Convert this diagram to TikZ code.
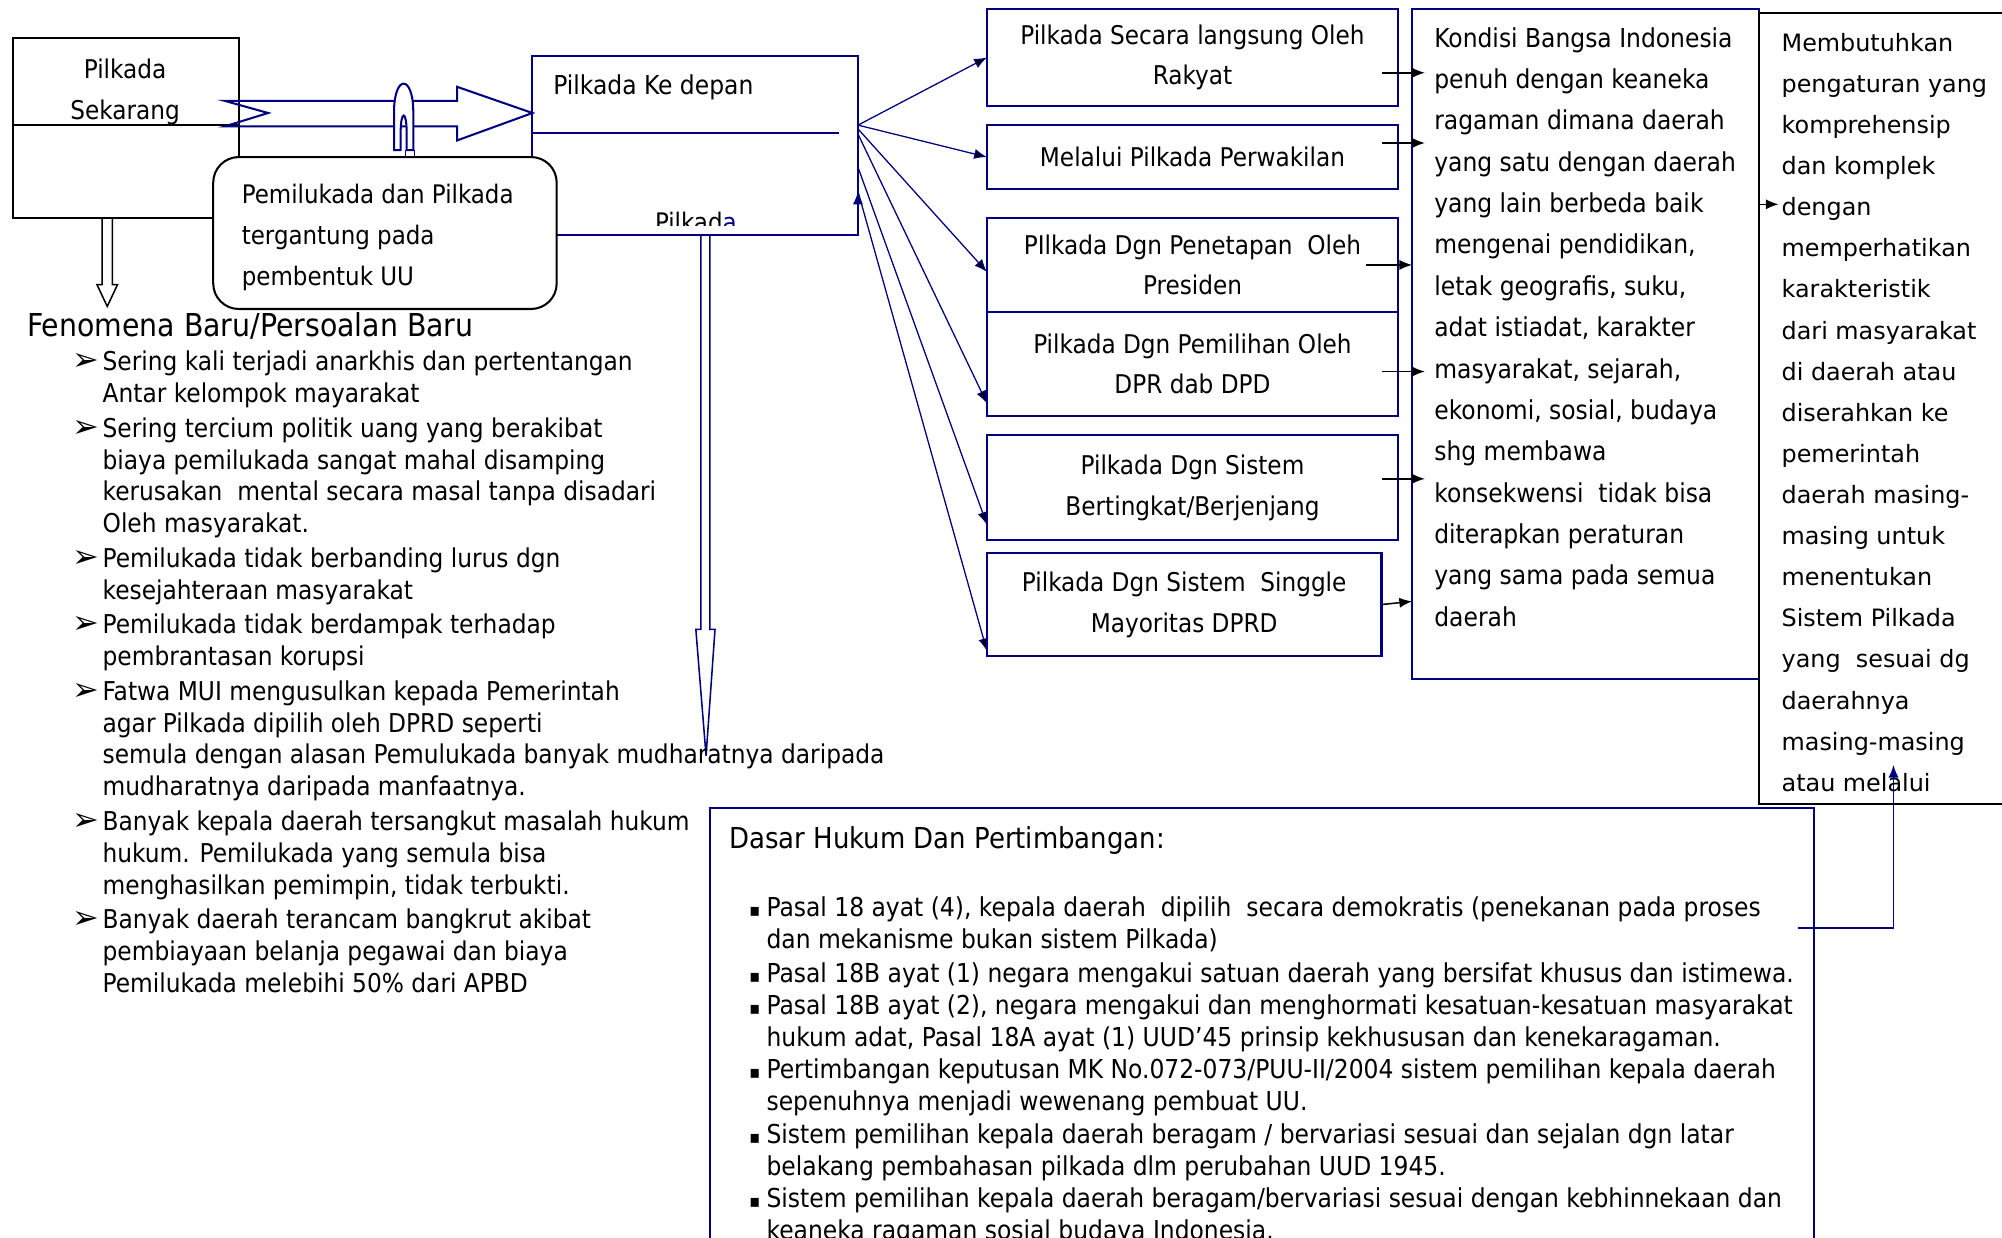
\documentclass[tikz,border=0pt]{standalone}
\usepackage{fontspec}
\setmainfont{DejaVu Sans Condensed}
\newfontfamily\verdana{DejaVu Sans}
\usetikzlibrary{positioning,calc,arrows.meta}
\definecolor{biru}{RGB}{0,0,128}
\newcommand{\panahpoin}{\llap{{\verdana\fontsize{12.5}{12}\selectfont ➢}\hspace{1.5pt}}}
\newcommand{\kotakpoin}{\llap{{\fontsize{7}{7}\selectfont ▪}\hspace{2.5pt}}}

\begin{document}
\begin{tikzpicture}[x=0.5pt,y=-0.5pt,>={Latex[length=5pt,width=4pt]},
    kotak/.style = {draw=biru,line width=0.8pt,anchor=north west,inner sep=0pt,outer sep=0pt},
    kotakhitam/.style = {draw,line width=0.8pt,anchor=north west,inner sep=0pt,outer sep=0pt},
    isi/.style = {font=\fontsize{10.1}{16}\selectfont,align=center},
    teks/.style = {inner sep=0pt,anchor=north west,align=left},
    panahbiru/.style = {->,draw=biru,line width=0.5pt},
    panahhitam/.style = {->,line width=0.6pt},
    blok/.style = {draw=biru,line width=0.8pt}]
        \useasboundingbox (0,0) rectangle (1568,969);

        % kiri atas
        \node[kotakhitam,minimum width=88.5pt,minimum height=70.5pt] (sekarang) at (10,30) {};
        \node[isi] (tsekarang) at (98,72) {Pilkada\\Sekarang};
        \draw[line width=0.8pt] ($(sekarang.north west)+(0,68)$) -- ($(sekarang.north east)+(0,68)$);

        \node[kotak,minimum width=127.5pt,minimum height=70pt] (depan) at (417,44) {};
        \node[inner sep=0pt,anchor=west,font=\fontsize{10.2}{12}\selectfont] (tdepan) at (433,68) {Pilkada Ke depan};
        \draw[biru,line width=0.8pt] ($(depan.north west)+(0,60)$) -- ++(240,0);
        \begin{scope}
            \clip (430,150) rectangle (660,177);
            \node[anchor=base,font=\fontsize{10}{12}\selectfont] (tpilkada) at (545,181) {Pilkad\textcolor{biru}{a}};
        \end{scope}

        \node[kotakhitam,rounded corners=10pt,fill=white,minimum width=134.5pt,minimum height=59.5pt] (uu) at (167,123) {};
        \node[teks,font=\fontsize{10}{16}\selectfont] (tuu) at (189,144) {Pemilukada dan Pilkada\\tergantung pada\\pembentuk UU};

        % panah blok
        \coordinate (ujung) at ($(depan.north west)+(0,44.5)$);
        \draw[blok] (ujung) -- +(-59,-20.5) -- +(-59,-9.5) -- +(-241,-9.5) -- +(-207,0)
            -- +(-241,10.5) -- +(-59,10.5) -- +(-59,21.5) -- cycle;
        \filldraw[blok,fill=white] (308.6,117.5) -- (308.6,88) .. controls (308.6,58) and (323.7,58) .. (323.7,88)
            -- (323.7,117.5) -- (318.5,117.5) -- (318.5,104) .. controls (318.5,86) and (313.8,86) .. (313.8,104)
            -- (313.8,117.5) -- cycle;
        \draw[blok,line width=0.6pt] (317.5,117.5) -- (317.5,123) (324.5,117.5) -- (324.5,123);
        \draw[line width=0.6pt] ($(sekarang.south)+(-18.5,0)$) -- +(0,52) -- +(-4,52) -- +(4,69)
            -- +(12,52) -- +(8,52) -- +(8,0);
        \draw[blok,line width=0.6pt] ($(depan.south)+(4.5,0)$) -- +(0,309) -- +(-4,309) -- +(4,408)
            -- +(11,309) -- +(7,309) -- +(7,0);

        % kolom pilihan
        \node[kotak,isi,minimum width=161pt,minimum height=38pt] (b1) at (773,7) {Pilkada Secara langsung Oleh\\Rakyat};
        \node[kotak,isi,minimum width=161pt,minimum height=25pt,below=7.5pt of b1.south west,anchor=north west] (b2) {Melalui Pilkada Perwakilan};
        \node[kotak,isi,minimum width=161pt,minimum height=36.5pt,below=11.5pt of b2.south west,anchor=north west] (b3) {PIlkada Dgn Penetapan\ \ Oleh\\Presiden};
        \node[kotak,isi,minimum width=161pt,minimum height=41pt,below=0pt of b3.south west,anchor=north west] (b4) {Pilkada Dgn Pemilihan Oleh\\DPR dab DPD};
        \node[kotak,isi,minimum width=161pt,minimum height=41pt,below=7.5pt of b4.south west,anchor=north west] (b5) {Pilkada Dgn Sistem\\Bertingkat/Berjenjang};
        \node[kotak,isi,minimum width=154.5pt,minimum height=40.5pt,below=5pt of b5.south west,anchor=north west] (b6) {Pilkada Dgn Sistem\ \ Singgle\\Mayoritas DPRD};

        \node[kotak,minimum width=136pt,minimum height=262.5pt] (kondisi) at (1106,7) {};
        \node[teks,font=\fontsize{10.2}{16.2}\selectfont] (tkondisi) at (1123,21) {Kondisi Bangsa Indonesia\\
            penuh dengan keaneka\\ragaman dimana daerah\\yang satu dengan daerah\\yang lain berbeda baik\\
            mengenai pendidikan,\\letak geografis, suku,\\adat istiadat, karakter\\masyarakat, sejarah,\\
            ekonomi, sosial, budaya\\shg membawa\\konsekwensi\ \ tidak bisa\\diterapkan peraturan\\
            yang sama pada semua\\daerah};

        \node[kotakhitam,minimum width=120pt,minimum height=310pt] (membutuhkan) at (1378,10) {};
        \node[teks,font=\verdana\fontsize{9.35}{16.1}\selectfont] (tmembutuhkan) at (1395,25.5) {Membutuhkan\\
            pengaturan yang\\komprehensip\\dan komplek\\dengan\\memperhatikan\\karakteristik\\
            dari masyarakat\\di daerah atau\\diserahkan ke\\pemerintah\\daerah masing-\\masing untuk\\
            menentukan\\Sistem Pilkada\\yang\ \ sesuai dg\\daerahnya\\masing-masing\\atau melalui};

        % fenomena
        \node[inner sep=0pt,anchor=west,font=\fontsize{12.35}{14}\selectfont] (fenomena) at (21,255) {Fenomena Baru/Persoalan Baru};
        \node[teks,font=\fontsize{10.15}{12.5}\selectfont] (tfenomena) at (80,274.5) {%
            \panahpoin Sering kali terjadi anarkhis dan pertentangan\\
            Antar kelompok mayarakat\\[1pt]
            \panahpoin Sering tercium politik uang yang berakibat\\
            biaya pemilukada sangat mahal disamping\\
            kerusakan\ \ mental secara masal tanpa disadari\\
            Oleh masyarakat.\\[1pt]
            \panahpoin Pemilukada tidak berbanding lurus dgn\\
            kesejahteraan masyarakat\\[1pt]
            \panahpoin Pemilukada tidak berdampak terhadap\\
            pembrantasan korupsi\\[1pt]
            \panahpoin Fatwa MUI mengusulkan kepada Pemerintah\\
            agar Pilkada dipilih oleh DPRD seperti\\
            semula dengan alasan Pemulukada banyak mudharatnya daripada\\
            mudharatnya daripada manfaatnya.\\[1pt]
            \panahpoin Banyak kepala daerah tersangkut masalah hukum\\
            hukum. Pemilukada yang semula bisa\\
            menghasilkan pemimpin, tidak terbukti.\\[1pt]
            \panahpoin Banyak daerah terancam bangkrut akibat\\
            pembiayaan belanja pegawai dan biaya\\
            Pemilukada melebihi 50\% dari APBD};

        % dasar hukum
        \node[kotak,minimum width=432.5pt,minimum height=200pt] (dasar) at (556,633) {};
        \node[inner sep=0pt,anchor=west,font=\fontsize{11.3}{14}\selectfont] (judasar) at (571,658) {Dasar Hukum Dan Pertimbangan:};
        \node[teks,font=\fontsize{10.2}{12.6}\selectfont] (tdasar) at (600,702) {%
            \kotakpoin Pasal 18 ayat (4), kepala daerah\ \ dipilih\ \ secara demokratis (penekanan pada proses\\
            dan mekanisme bukan sistem Pilkada)\\[0.5pt]
            \kotakpoin Pasal 18B ayat (1) negara mengakui satuan daerah yang bersifat khusus dan istimewa.\\
            \kotakpoin Pasal 18B ayat (2), negara mengakui dan menghormati kesatuan-kesatuan masyarakat\\
            hukum adat, Pasal 18A ayat (1) UUD’45 prinsip kekhususan dan kenekaragaman.\\
            \kotakpoin Pertimbangan keputusan MK No.072-073/PUU-II/2004 sistem pemilihan kepala daerah\\
            sepenuhnya menjadi wewenang pembuat UU.\\
            \kotakpoin Sistem pemilihan kepala daerah beragam / bervariasi sesuai dan sejalan dgn latar\\
            belakang pembahasan pilkada dlm perubahan UUD 1945.\\
            \kotakpoin Sistem pemilihan kepala daerah beragam/bervariasi sesuai dengan kebhinnekaan dan\\
            keaneka ragaman sosial budaya Indonesia.};

        % panah
        \path[panahbiru]
        ($(depan.east)+(0,-16)$) edge (b1.west)
        ($(depan.east)+(0,-16)$) edge (b2.west)
        ($(depan.east)+(0,-13)$) edge ($(b3.west)+(0,5.5)$)
        ($(depan.east)+(0,-9)$) edge ($(b4.west)+(0,31)$)
        ($(depan.east)+(0,17)$) edge ($(b5.west)+(0,29)$)
        ($(depan.east)+(0,36)$) edge ($(b6.west)+(0,36.5)$)
        ;
        \path[panahhitam]
        ($(b1.east)+(-13,12)$) edge ($(b1.east -| kondisi.west)+(10,12)$)
        ($(b2.east)+(-13,-11)$) edge ($(b2.east -| kondisi.west)+(10,-11)$)
        ($(b3.east)+(-25,0)$) edge (b3.east -| kondisi.west)
        ($(b4.east)+(-13,6)$) edge ($(b4.east -| kondisi.west)+(10,6)$)
        ($(b5.east)+(-13,-7)$) edge ($(b5.east -| kondisi.west)+(10,-7)$)
        (b6.east) edge ($(b6.east -| kondisi.west)+(0,-2.5)$)
        ($(kondisi.east)+(0,-109.5)$) edge ($(kondisi.east)+(15,-109.5)$)
        ;
        \draw[panahbiru,line width=0.7pt] ($(dasar.north east)+(-13,94)$) -| ($(membutuhkan.south west)+(105,-31)$);
    \end{tikzpicture}
\end{document}
